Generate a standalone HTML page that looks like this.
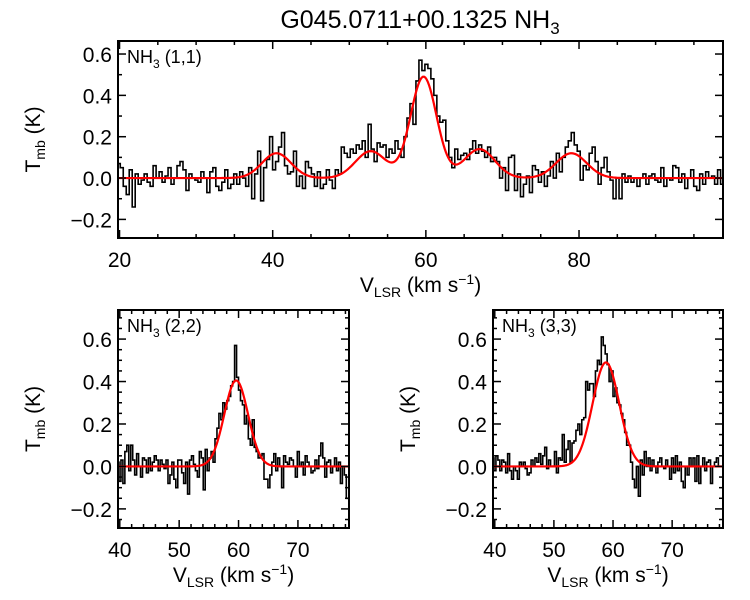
<!DOCTYPE html>
<html><head><meta charset="utf-8"><style>
html,body{margin:0;padding:0;background:#fff;}
svg{display:block;font-family:"Liberation Sans",sans-serif;}
</style></head><body>
<svg id="c" width="750" height="600" viewBox="0 0 750 600">
<text x="420" y="28" text-anchor="middle" font-size="25">G045.0711+00.1325 NH<tspan font-size="17" dy="6">3</tspan></text>
</svg>
<script>
// ---- data: NH3 (1,1)
const v11Start = 19.9, v11Step = 0.39;
const t11 = [0.07,0.05,-0.04,-0.08,0.04,-0.14,0.02,-0.03,-0.01,0.02,-0.02,-0.04,0.06,0.0,0.03,-0.02,0.01,0.05,-0.03,0.0,0.06,0.08,0.04,-0.06,0.02,0.0,-0.01,-0.02,0.03,0.0,-0.07,0.03,0.05,-0.04,-0.06,-0.02,0.04,-0.05,-0.03,
0.02,-0.03,0.03,0.0,-0.04,0.05,
-0.1,0.02,0.13,-0.11,0.05,0.09,0.2,0.04,0.08,0.15,0.22,0.06,0.02,0.03,0.13,-0.04,0.01,-0.05,0.08,0.05,0.02,-0.04,0.03,-0.05,-0.03,0.04,
-0.01,-0.05,0.04,0.02,0.15,0.12,0.1,0.14,0.12,0.16,
0.14,0.18,0.1,0.26,0.14,0.08,0.17,0.15,0.16,0.1,0.14,0.12,0.18,0.14,0.1,
0.2,0.29,0.36,0.26,0.47,0.57,0.52,0.55,0.53,0.48,0.4,0.3,0.27,0.28,0.18,0.1,0.05,
0.14,0.09,0.11,0.12,0.09,0.14,0.18,0.12,0.16,0.13,0.1,0.15,0.08,0.1,0.08,0.0,0.05,-0.06,0.1,0.11,-0.06,0.02,
-0.09,-0.03,0.01,-0.07,0.06,0.04,-0.02,0.03,-0.04,0.01,0.08,0.0,0.12,0.03,0.1,0.15,0.18,0.22,0.16,0.13,-0.01,0.06,0.04,
0.12,0.15,0.08,-0.03,0.05,0.1,0.03,-0.01,-0.1,0.0,-0.1,0.02,-0.02,0.01,-0.02,0.0,-0.04,0.0,0.02,-0.03,0.01,0.02,-0.01,-0.02,0.05,-0.04,0.0,-0.01,0.06,0.05,-0.02,0.02,-0.05,0.0,0.04,-0.04,-0.06,0.02,-0.03,0.03,0.0,0.01,-0.03,0.04,-0.03];
const fit11Centers = [40.5, 52.8, 59.7, 67.0, 79.0];
const fit11Amps = [0.12, 0.13, 0.49, 0.14, 0.12];
const fit11Sigmas = [1.9, 2.0, 1.7, 2.0, 2.0];
// ---- data: NH3 (2,2)
const v22Start = 39.7, v22Step = 0.33;
const t22 = [0.02,-0.07,0.03,-0.08,0.07,0.1,-0.02,0.1,0.03,-0.04,0.06,0.0,-0.05,0.04,0.03,-0.03,0.04,-0.02,0.02,0.05,0.03,-0.02,0.03,0.01,-0.01,0.03,-0.08,-0.04,0.02,-0.06,-0.1,0.03,0.03,-0.03,-0.08,0.02,-0.13,0.03,0.05,0.01,-0.02,-0.05,
0.07,0.04,-0.11,0.08,-0.02,0.04,0.07,0.02,0.13,0.18,0.25,0.22,0.3,0.27,0.31,
0.33,0.38,0.4,0.57,0.42,0.36,0.31,0.29,0.2,0.24,0.13,0.1,0.22,0.09,0.07,
0.04,0.05,0.06,-0.06,-0.06,-0.1,-0.04,0.02,0.06,-0.02,0.04,0.0,-0.1,0.05,0.02,0.01,0.04,0.03,0.0,-0.05,0.07,0.0,0.02,-0.04,0.05,0.02,0.0,-0.03,-0.02,0.03,-0.01,0.05,0.11,0.04,-0.05,0.02,0.03,-0.03,0.0,0.04,-0.02,0.02,-0.08,0.0,-0.04,-0.15];
const fit22Centers = [59.6], fit22Amps = [0.405], fit22Sigmas = [2.0];
// ---- data: NH3 (3,3)
const v33Start = 39.7, v33Step = 0.33;
const t33 = [0.04,-0.02,0.05,0.03,-0.02,0.03,0.02,-0.03,0.06,-0.02,-0.06,0.0,-0.02,-0.06,0.02,0.0,0.02,-0.01,-0.04,-0.03,0.03,0.0,0.04,0.02,0.06,0.01,0.05,0.09,-0.01,0.03,0.0,
0.0,0.07,-0.03,0.04,0.03,0.15,0.02,0.08,0.12,0.02,0.11,0.12,0.17,0.2,0.15,0.22,0.23,0.4,0.36,0.39,
0.39,0.33,0.45,0.5,0.48,0.61,0.57,0.53,0.48,0.4,0.45,0.33,0.37,0.3,0.29,0.25,
0.22,0.16,0.1,0.1,0.02,-0.06,-0.1,0.0,-0.14,0.03,-0.04,0.07,0.0,0.04,-0.02,0.03,0.0,-0.03,0.02,0.04,0.0,-0.01,0.03,0.0,-0.06,0.04,-0.03,0.05,-0.02,0.02,-0.07,-0.1,0.0,-0.04,0.04,0.0,0.04,-0.07,0.05,-0.08,0.0,0.04,-0.02,0.02,0.03,-0.08,0.0,0.02,0.04,0.0];
const fit33Centers = [58.8], fit33Amps = [0.49], fit33Sigmas = [2.25];
const yTickLabels = ["-0.2","0.0","0.2","0.4","0.6"];
const xTicksTop = ["20","40","60","80"];
const xTicksBottom = ["40","50","60","70"];

const NS = "http://www.w3.org/2000/svg";
const svg = document.getElementById('c');
function mk(tag, attrs, parent){const e=document.createElementNS(NS,tag);for(const k in attrs)e.setAttribute(k,attrs[k]);(parent||svg).appendChild(e);return e;}

function panel(o){
  const g = mk('g',{});
  
  
  const X = v => o.x0 + (v - o.xmin) / (o.xmax - o.xmin) * (o.x1 - o.x0);
  const Y = t => o.y1 - (t - o.ymin) / (o.ymax - o.ymin) * (o.y1 - o.y0);
  const cid = 'clip-' + o.name;
  const cp = mk('clipPath',{id:cid},g);
  mk('rect',{x:o.x0,y:o.y0,width:o.x1-o.x0,height:o.y1-o.y0},cp);
  let d = '';
  o.data.forEach((t,i)=>{
    const v = o.vStart + i*o.vStep;
    const xa = X(v - o.vStep/2), xb = X(v + o.vStep/2), y = Y(t);
    d += (i===0 ? 'M' : 'L') + xa.toFixed(2) + ',' + y.toFixed(2) + 'L' + xb.toFixed(2) + ',' + y.toFixed(2);
  });
  const hist = mk('path',{d:d,fill:'none',stroke:'#000','stroke-width':1.6,'clip-path':'url(#'+cid+')'},g);
  
  
  let f = '';
  const n = 500;
  for(let k=0;k<=n;k++){
    const v = o.xmin + (o.xmax-o.xmin)*k/n;
    let s = 0;
    for(let j=0;j<o.fc.length;j++){ s += o.fa[j]*Math.exp(-0.5*Math.pow((v-o.fc[j])/o.fs[j],2)); }
    f += (k===0?'M':'L') + X(v).toFixed(2) + ',' + Y(s).toFixed(2);
  }
  const fit = mk('path',{d:f,fill:'none',stroke:'#f00','stroke-width':2.2,'clip-path':'url(#'+cid+')'},g);
  
  
  mk('rect',{x:o.x0,y:o.y0,width:o.x1-o.x0,height:o.y1-o.y0,fill:'none',stroke:'#000','stroke-width':2},g);
  for(let t=-0.3; t<=o.ymax+1e-9; t+=o.yMinor){
    const tt = Math.round(t*100)/100;
    if (tt < o.ymin) continue;
    const major = Math.abs(Math.round(tt/0.2)*0.2 - tt) < 1e-6;
    const L = major ? 8 : 4, y = Y(tt);
    mk('line',{x1:o.x0,x2:o.x0+L,y1:y,y2:y,stroke:'#000','stroke-width':1.5},g);
    mk('line',{x1:o.x1,x2:o.x1-L,y1:y,y2:y,stroke:'#000','stroke-width':1.5},g);
  }
  yTickLabels.forEach(s=>{
    const val = parseFloat(s);
    const tx = mk('text',{x:o.x0-6,y:Y(val)+8,'text-anchor':'end','font-size':21},g);
    tx.textContent = s.replace('-','\u2212');
    
    
  });
  const start = Math.ceil(o.xmin / o.xMinor) * o.xMinor;
  for(let v=start; v<=o.xmax; v+=o.xMinor){
    const major = Math.abs(v % o.xMajor) < 1e-6;
    const L = major ? 8 : 4, x = X(v);
    mk('line',{x1:x,x2:x,y1:o.y1,y2:o.y1-L,stroke:'#000','stroke-width':1.5},g);
    mk('line',{x1:x,x2:x,y1:o.y0,y2:o.y0+L,stroke:'#000','stroke-width':1.5},g);
  }
  o.xLabels.forEach(s=>{
    const tx = mk('text',{x:X(parseFloat(s)),y:o.y1+29,'text-anchor':'middle','font-size':21},g);
    tx.textContent = s;
    
    
  });
  const yt = mk('text',{x:0,y:0,'font-size':21,'text-anchor':'middle',transform:'translate('+(o.x0-78)+','+((o.y0+o.y1)/2)+') rotate(-90)'},g);
  yt.innerHTML = 'T<tspan font-size="14" dy="5">mb</tspan><tspan dy="-5"> (K)</tspan>';
  
  
  const xt = mk('text',{x:(o.x0+o.x1)/2,y:o.y1+54,'font-size':21,'text-anchor':'middle'},g);
  xt.innerHTML = 'V<tspan font-size="14" dy="5">LSR</tspan><tspan dy="-5"> (km s</tspan><tspan font-size="14" dy="-8">\u22121</tspan><tspan dy="8">)</tspan>';
  
  
  const lab = mk('text',{x:o.x0+9,y:o.y0+22,'font-size':18},g);
  lab.innerHTML = 'NH<tspan font-size="12" dy="5">3</tspan><tspan dy="-5"> ' + o.label + '</tspan>';
  
  
}

panel({name:'panel-nh3-11',x0:118,x1:723,y0:41,y1:238,xmin:19.8,xmax:98.8,ymin:-0.29,ymax:0.663,
  xMajor:20,xMinor:5,yMinor:0.1,xLabels:xTicksTop,data:t11,vStart:v11Start,vStep:v11Step,
  fc:fit11Centers,fa:fit11Amps,fs:fit11Sigmas,label:'(1,1)'});
panel({name:'panel-nh3-22',x0:118,x1:349,y0:310,y1:528,xmin:39.7,xmax:78.6,ymin:-0.29,ymax:0.737,
  xMajor:10,xMinor:2,yMinor:0.05,xLabels:xTicksBottom,data:t22,vStart:v22Start,vStep:v22Step,
  fc:fit22Centers,fa:fit22Amps,fs:fit22Sigmas,label:'(2,2)'});
panel({name:'panel-nh3-33',x0:493,x1:723,y0:310,y1:528,xmin:39.7,xmax:78.6,ymin:-0.29,ymax:0.737,
  xMajor:10,xMinor:2,yMinor:0.05,xLabels:xTicksBottom,data:t33,vStart:v33Start,vStep:v33Step,
  fc:fit33Centers,fa:fit33Amps,fs:fit33Sigmas,label:'(3,3)'});
</script>
</body></html>
